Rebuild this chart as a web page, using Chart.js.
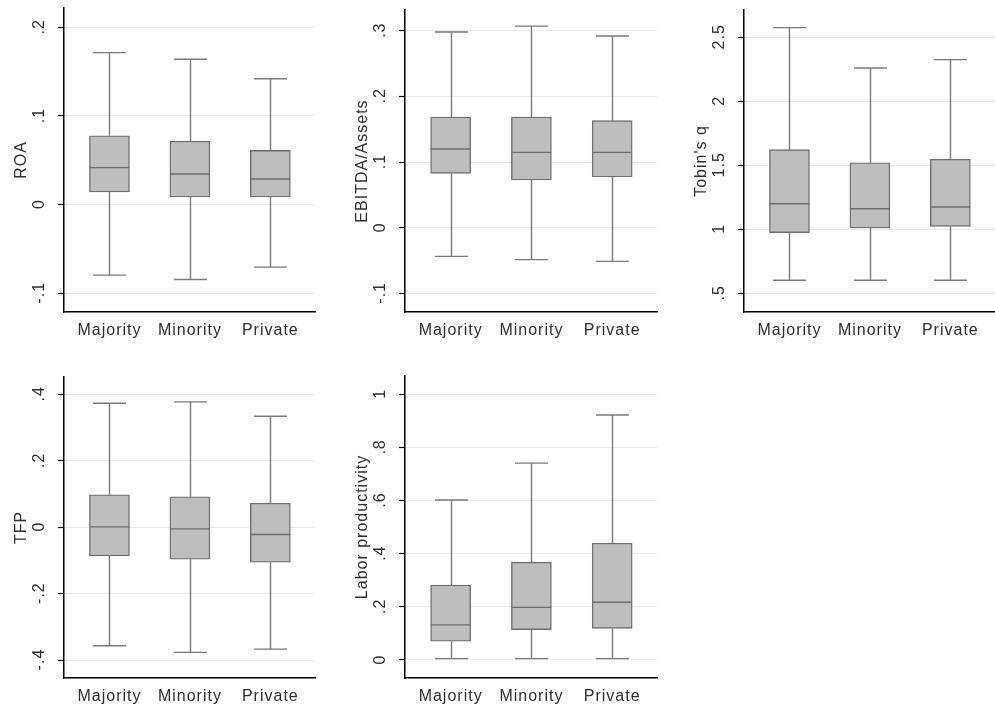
<!DOCTYPE html>
<html>
<head>
<meta charset="utf-8">
<script src="https://cdn.jsdelivr.net/npm/chart.js@4"></script>
<style>
html,body{margin:0;padding:0;background:#fff;width:995px;height:712px;overflow:hidden;}
canvas{position:absolute;}
</style>
</head>
<body>
<canvas id="c1" width="320" height="352" style="left:0px;top:0px"></canvas>
<canvas id="c2" width="320" height="352" style="left:341px;top:0px"></canvas>
<canvas id="c3" width="315" height="352" style="left:680px;top:0px"></canvas>
<canvas id="c4" width="320" height="358" style="left:0px;top:360px"></canvas>
<canvas id="c5" width="320" height="358" style="left:341px;top:360px"></canvas>
<script>
// ---- data ----
const categories = ['Majority', 'Minority', 'Private'];

const roaMin = [-0.0795, -0.0844, -0.0705];
const roaQ1  = [0.0143, 0.0086, 0.0086];
const roaMed = [0.0417, 0.0345, 0.0289];
const roaQ3  = [0.0777, 0.0717, 0.0612];
const roaMax = [0.1715, 0.164, 0.142];
const roaTicks = [-0.1, 0, 0.1, 0.2];
const roaTickLabels = ['-.1', '0', '.1', '.2'];

const ebitdaMin = [-0.0437, -0.0487, -0.0513];
const ebitdaQ1  = [0.0827, 0.0726, 0.0772];
const ebitdaMed = [0.1198, 0.1147, 0.1147];
const ebitdaQ3  = [0.1685, 0.1685, 0.163];
const ebitdaMax = [0.298, 0.307, 0.292];
const ebitdaTicks = [-0.1, 0, 0.1, 0.2, 0.3];
const ebitdaTickLabels = ['-.1', '0', '.1', '.2', '.3'];

const tobinMin = [0.602, 0.602, 0.602];
const tobinQ1  = [0.974, 1.01, 1.023];
const tobinMed = [1.2, 1.161, 1.174];
const tobinQ3  = [1.622, 1.52, 1.547];
const tobinMax = [2.575, 2.26, 2.325];
const tobinTicks = [0.5, 1, 1.5, 2, 2.5];
const tobinTickLabels = ['.5', '1', '1.5', '2', '2.5'];

const tfpMin = [-0.357, -0.377, -0.367];
const tfpQ1  = [-0.0864, -0.0965, -0.1055];
const tfpMed = [0.001, -0.005, -0.022];
const tfpQ3  = [0.0975, 0.0915, 0.0724];
const tfpMax = [0.373, 0.377, 0.334];
const tfpTicks = [-0.4, -0.2, 0, 0.2, 0.4];
const tfpTickLabels = ['-.4', '-.2', '0', '.2', '.4'];

const laborMin = [0.005, 0.005, 0.005];
const laborQ1  = [0.0703, 0.114, 0.119];
const laborMed = [0.132, 0.198, 0.217];
const laborQ3  = [0.282, 0.368, 0.440];
const laborMax = [0.602, 0.741, 0.922];
const laborTicks = [0, 0.2, 0.4, 0.6, 0.8, 1];
const laborTickLabels = ['0', '.2', '.4', '.6', '.8', '1'];

// ---- styling ----
const FONT = {family: '"Liberation Sans", Arial, sans-serif', size: 16};
const TEXT = '#2e2e2e';
const BOX_FILL = '#bebebe';
const BOX_LINE = '#6e6e6e';
const WHISKER = '#7a7a7a';
const X_MIN = -0.565, X_MAX = 2.555;

const boxPlugin = {
  id: 'boxExtras',
  beforeDraw(chart) { chart.ctx.letterSpacing = '1px'; },
  beforeDatasetsDraw(chart, args, opts) {
    const ctx = chart.ctx, y = chart.scales.y, meta = chart.getDatasetMeta(0);
    ctx.save();
    ctx.strokeStyle = WHISKER; ctx.lineWidth = 1.4;
    meta.data.forEach((el, i) => {
      const x = Math.round(el.x) + 0.5;
      const yq1 = y.getPixelForValue(opts.q1[i]), yq3 = y.getPixelForValue(opts.q3[i]);
      const ymin = y.getPixelForValue(opts.min[i]), ymax = y.getPixelForValue(opts.max[i]);
      const hw = 16.5;
      ctx.beginPath();
      ctx.moveTo(x, yq3); ctx.lineTo(x, ymax);
      ctx.moveTo(x - hw, ymax); ctx.lineTo(x + hw, ymax);
      ctx.moveTo(x, yq1); ctx.lineTo(x, ymin);
      ctx.moveTo(x - hw, ymin); ctx.lineTo(x + hw, ymin);
      ctx.stroke();
    });
    ctx.restore();
  },
  afterDatasetsDraw(chart, args, opts) {
    const ctx = chart.ctx, y = chart.scales.y, meta = chart.getDatasetMeta(0);
    ctx.save();
    ctx.strokeStyle = BOX_LINE; ctx.lineWidth = 1.4;
    meta.data.forEach((el, i) => {
      const ym = y.getPixelForValue(opts.med[i]);
      ctx.beginPath();
      ctx.moveTo(el.x - el.width / 2, ym); ctx.lineTo(el.x + el.width / 2, ym);
      ctx.stroke();
    });
    ctx.restore();
  },
  afterDraw(chart, args, opts) {
    const ctx = chart.ctx, y = chart.scales.y;
    ctx.save();
    ctx.fillStyle = TEXT;
    ctx.font = FONT.size + 'px ' + FONT.family;
    ctx.letterSpacing = '1px';
    ctx.textAlign = 'center';
    ctx.textBaseline = 'middle';
    opts.ticks.forEach((v, i) => {
      const py = y.getPixelForValue(v);
      ctx.save();
      ctx.translate(chart.chartArea.left - 24, py);
      ctx.rotate(-Math.PI / 2);
      ctx.fillText(opts.labels[i], 0.5, 0);
      ctx.restore();
    });
    ctx.restore();
  }
};

function makePanel(id, title, q1, med, q3, mn, mx, ticks, labels, ymin, ymax, padTop, padRight) {
  const box = categories.map((c, i) => ({x: i, y: [q1[i], q3[i]]}));
  return new Chart(document.getElementById(id), {
    type: 'bar',
    data: {
      labels: categories,
      datasets: [{
        data: box,
        backgroundColor: BOX_FILL,
        borderColor: BOX_LINE,
        borderWidth: 1.4,
        borderSkipped: false,
        barThickness: 40
      }]
    },
    options: {
      responsive: false,
      animation: false,
      events: [],
      layout: {padding: {top: padTop, right: padRight, left: 0, bottom: 0}},
      plugins: {
        legend: {display: false},
        tooltip: {enabled: false},
        boxExtras: {q1: q1, med: med, q3: q3, min: mn, max: mx, ticks: ticks, labels: labels}
      },
      scales: {
        x: {
          type: 'linear',
          min: X_MIN, max: X_MAX,
          offset: false,
          afterBuildTicks(s) { s.ticks = categories.map((c, i) => ({value: i})); },
          grid: {display: false, drawTicks: false},
          border: {color: '#000', width: 1.5},
          ticks: {font: FONT, color: TEXT, padding: 9, maxRotation: 0, autoSkip: false,
                  callback: (v) => categories[v]},
          afterFit(s) { s.height = 40; }
        },
        y: {
          min: ymin, max: ymax,
          afterBuildTicks(s) { s.ticks = ticks.map(v => ({value: v})); },
          grid: {color: '#e8e8e8', lineWidth: 1, tickColor: '#000', tickLength: 6, tickWidth: 1.2},
          border: {color: '#000', width: 1.5},
          ticks: {display: false},
          title: {display: true, text: title, font: FONT, color: TEXT, padding: {top: 12, bottom: 0}},
          afterFit(s) { s.width = 64; }
        }
      }
    },
    plugins: [boxPlugin]
  });
}

makePanel('c1', 'ROA', roaQ1, roaMed, roaQ3, roaMin, roaMax, roaTicks, roaTickLabels, -0.1211, 0.2218, 8, 5);
makePanel('c2', 'EBITDA/Assets', ebitdaQ1, ebitdaMed, ebitdaQ3, ebitdaMin, ebitdaMax, ebitdaTicks, ebitdaTickLabels, -0.1284, 0.3315, 10, 4);
makePanel('c3', "Tobin's q", tobinQ1, tobinMed, tobinQ3, tobinMin, tobinMax, tobinTicks, tobinTickLabels, 0.354, 2.713, 10, 0);
makePanel('c4', 'TFP', tfpQ1, tfpMed, tfpQ3, tfpMin, tfpMax, tfpTicks, tfpTickLabels, -0.454, 0.452, 17, 5);
makePanel('c5', 'Labor productivity', laborQ1, laborMed, laborQ3, laborMin, laborMax, laborTicks, laborTickLabels, -0.068, 1.069, 16, 4);
</script>
</body>
</html>
